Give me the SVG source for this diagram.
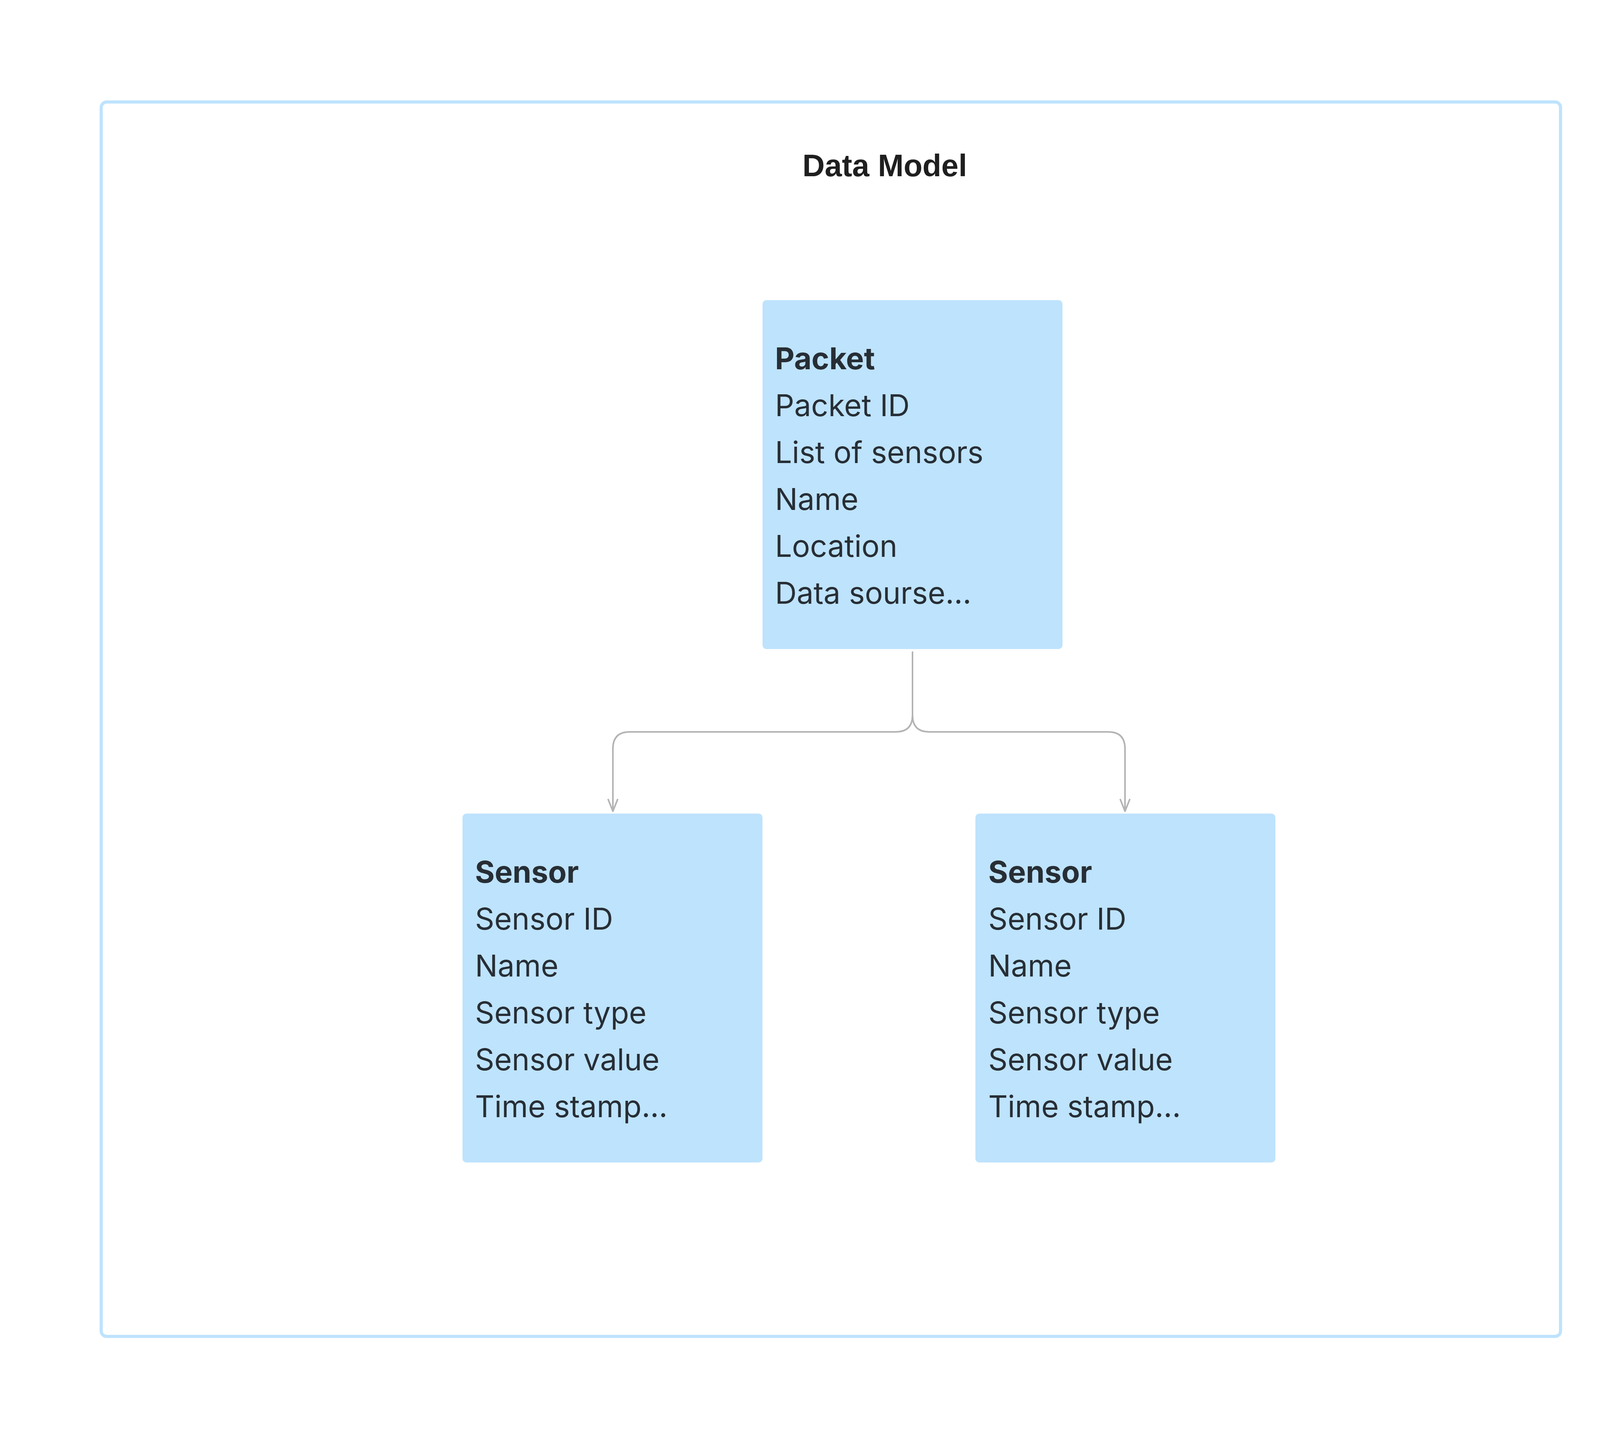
<svg xmlns="http://www.w3.org/2000/svg" width="4256" height="3680" viewBox="0 0 4256 3680">
<defs>
<style>
.frame{fill:#ffffff;stroke:#BEE3FD;stroke-width:8}
.box{fill:#BEE3FD}
.t{font-family:Inter,"Liberation Sans",sans-serif;font-size:77px;fill:#272E35}
.b{font-weight:700}
.title{font-family:"Liberation Sans",Arial,sans-serif;font-size:79px;font-weight:700;fill:#1F1F1F}
.conn{fill:none;stroke:#B3B3B3;stroke-width:4;stroke-linecap:round;stroke-linejoin:round}
</style>
<marker id="arr" markerUnits="userSpaceOnUse" markerWidth="60" markerHeight="60" refX="0" refY="0" orient="auto" viewBox="-40 -30 60 60" overflow="visible">
<path d="M-30,-12 L0,0 L-30,12" fill="none" stroke="#B3B3B3" stroke-width="4" stroke-linecap="round" stroke-linejoin="round"/>
</marker>
</defs>
<rect width="4256" height="3680" fill="#ffffff"/>
<g id="frame">
<rect class="frame" x="259" y="261" width="3736" height="3159" rx="14"/>
<text class="title" x="2265" y="451" text-anchor="middle">Data Model</text>
</g>
<g id="connectors">
<path class="conn" d="M2336 1669 V1830 Q2336 1873 2293 1873 H1612 Q1569 1873 1569 1916 V2076" marker-end="url(#arr)"/>
<path class="conn" d="M2336 1669 V1830 Q2336 1873 2379 1873 H2837 Q2880 1873 2880 1916 V2076" marker-end="url(#arr)"/>
</g>
<g id="packet">
<rect class="box" x="1952" y="768" width="768" height="893" rx="10"/>
<text class="t b" x="1984" y="945">Packet</text>
<text class="t" x="1984" y="1065">Packet ID</text>
<text class="t" x="1984" y="1185">List of sensors</text>
<text class="t" x="1984" y="1305">Name</text>
<text class="t" x="1984" y="1425">Location</text>
<text class="t" x="1984" y="1545">Data sourse...</text>
</g>
<g id="sensor-left">
<rect class="box" x="1184" y="2082" width="768" height="893" rx="10"/>
<text class="t b" x="1216" y="2259">Sensor</text>
<text class="t" x="1216" y="2379">Sensor ID</text>
<text class="t" x="1216" y="2499">Name</text>
<text class="t" x="1216" y="2619">Sensor type</text>
<text class="t" x="1216" y="2739">Sensor value</text>
<text class="t" x="1216" y="2859">Time stamp...</text>
</g>
<g id="sensor-right">
<rect class="box" x="2497" y="2082" width="768" height="893" rx="10"/>
<text class="t b" x="2530" y="2259">Sensor</text>
<text class="t" x="2530" y="2379">Sensor ID</text>
<text class="t" x="2530" y="2499">Name</text>
<text class="t" x="2530" y="2619">Sensor type</text>
<text class="t" x="2530" y="2739">Sensor value</text>
<text class="t" x="2530" y="2859">Time stamp...</text>
</g>
</svg>
